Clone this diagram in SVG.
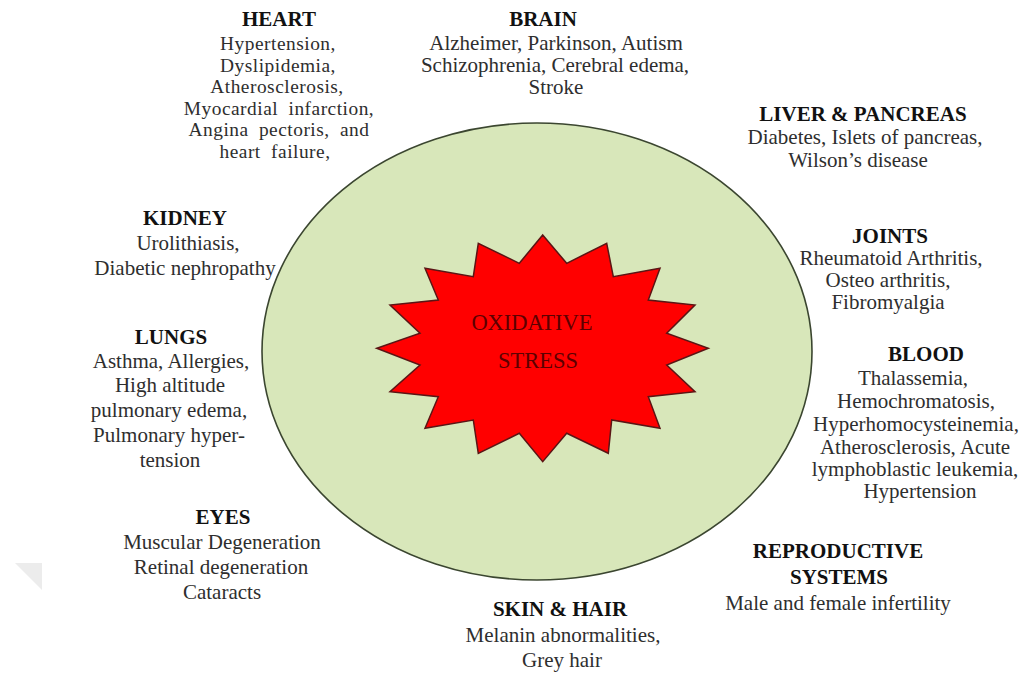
<svg xmlns="http://www.w3.org/2000/svg" width="1025" height="673" viewBox="0 0 1025 673">
<style>
text{font-family:"Liberation Serif","Times New Roman",serif;font-size:21px;text-anchor:middle;fill:#2e2e2e}
.h{font-weight:bold;fill:#111}
.c{fill:#5c0000;font-size:22.5px}
.t{font-size:19.4px;letter-spacing:0.5px}
</style>
<rect width="1025" height="673" fill="#ffffff"/>
<polygon points="15,563 42,563 42,590" fill="#ececec"/>
<g id="center">
<ellipse cx="537" cy="351.5" rx="275" ry="228.5" fill="#d8e7ba" stroke="#3b4630" stroke-width="1.6"/>
<polygon fill="#ff0000" stroke="#5a1515" stroke-width="1.5" points="542.7,235 566.7,263.3 606.7,243.3 613.3,276.7 660,268.3 648.3,300 695,305 666.7,333.3 708.3,348.3 666.7,365 695,391.7 648.3,396.7 660,428.3 611.7,420 608.3,453.3 566.7,433.3 542.7,461.7 519.3,433.3 478.3,453.3 473.3,420 425,428.3 438.3,396.7 390,391.7 420,365 376.7,348.3 420,333.3 390,305 438.3,300 425,268.3 473.3,276.7 478.3,243.3 519.3,263.3"/>
<text class="c" x="532" y="330">OXIDATIVE</text>
<text class="c" x="538" y="368">STRESS</text>
</g>
<g id="connectors"/>
<g id="heart">
<text class="h" x="279" y="26">HEART</text>
<text class="t" x="278" y="50">Hypertension,</text>
<text class="t" x="278" y="71.5">Dyslipidemia,</text>
<text class="t" x="277" y="93">Atherosclerosis,</text>
<text class="t" x="279" y="114.5" word-spacing="5">Myocardial infarction,</text>
<text class="t" x="279" y="136" word-spacing="5">Angina pectoris, and</text>
<text class="t" x="275" y="157.5" word-spacing="5">heart failure,</text>
</g>
<g id="brain">
<text class="h" x="543" y="26">BRAIN</text>
<text x="556" y="50">Alzheimer, Parkinson, Autism</text>
<text x="555" y="72">Schizophrenia, Cerebral edema,</text>
<text x="556" y="94">Stroke</text>
</g>
<g id="liver">
<text class="h" x="863" y="121">LIVER &amp; PANCREAS</text>
<text x="865" y="144">Diabetes, Islets of pancreas,</text>
<text x="858" y="167">Wilson’s disease</text>
</g>
<g id="kidney">
<text class="h" x="185" y="225">KIDNEY</text>
<text x="188" y="250">Urolithiasis,</text>
<text x="185" y="275">Diabetic nephropathy</text>
</g>
<g id="joints">
<text class="h" x="890" y="243">JOINTS</text>
<text x="891" y="265">Rheumatoid Arthritis,</text>
<text x="888" y="287">Osteo arthritis,</text>
<text x="888" y="309">Fibromyalgia</text>
</g>
<g id="lungs">
<text class="h" x="171" y="344">LUNGS</text>
<text x="171" y="368">Asthma, Allergies,</text>
<text x="170" y="392">High altitude</text>
<text x="169" y="417">pulmonary edema,</text>
<text x="169" y="442">Pulmonary hyper-</text>
<text x="170" y="467">tension</text>
</g>
<g id="blood">
<text class="h" x="926" y="361">BLOOD</text>
<text x="913" y="385">Thalassemia,</text>
<text x="916" y="408">Hemochromatosis,</text>
<text x="916" y="431">Hyperhomocysteinemia,</text>
<text x="915" y="454">Atherosclerosis, Acute</text>
<text x="915" y="476">lymphoblastic leukemia,</text>
<text x="920" y="498">Hypertension</text>
</g>
<g id="eyes">
<text class="h" x="223" y="524">EYES</text>
<text x="222" y="549">Muscular Degeneration</text>
<text x="221" y="574">Retinal degeneration</text>
<text x="222" y="599">Cataracts</text>
</g>
<g id="reproductive">
<text class="h" x="838" y="558">REPRODUCTIVE</text>
<text class="h" x="839" y="584">SYSTEMS</text>
<text x="838" y="610">Male and female infertility</text>
</g>
<g id="skin">
<text class="h" x="560" y="616">SKIN &amp; HAIR</text>
<text x="563" y="642">Melanin abnormalities,</text>
<text x="562" y="667">Grey hair</text>
</g>
</svg>
